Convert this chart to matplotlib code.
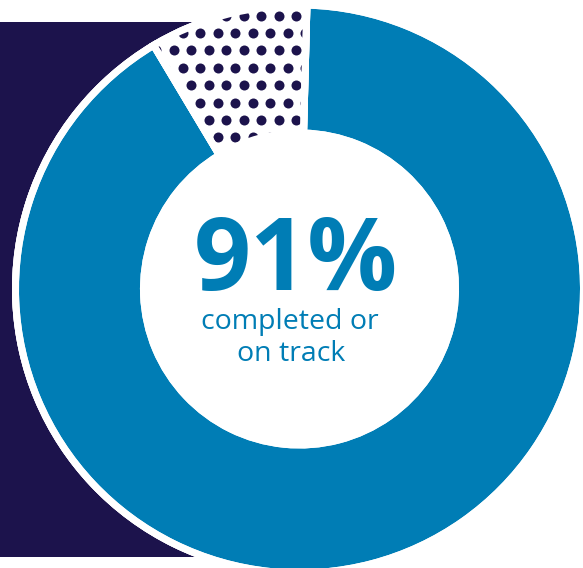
import numpy as np
import matplotlib.pyplot as plt
from matplotlib.patches import Rectangle, Circle, Wedge

# Data
categories = ['Completed or on track', 'Not on track']
values = [91, 9]
headline = '91%'
caption = ['completed or', 'on track']

BLUE = '#007DB5'
NAVY = '#1C134C'

W, H = 583, 568
fig = plt.figure(figsize=(W / 100, H / 100), dpi=100)
ax = fig.add_axes([0, 0, 1, 1])

cx, cy = 299.5, 279
R_out, R_in = 284, 156
edge_px = 7
edge_pt = edge_px * 72 / 100

# dark navy block behind the donut
ax.add_patch(Rectangle((0, 11), 250, 535, facecolor=NAVY, edgecolor='none', zorder=0))
# white halo around the ring
ax.add_patch(Circle((cx, cy), 287.5, facecolor='white', edgecolor='none', zorder=1))

wedges, _ = ax.pie(values, colors=[BLUE, 'white'], startangle=88.5, counterclock=False,
                   center=(cx, cy), radius=R_out,
                   wedgeprops=dict(width=R_out - R_in, edgecolor='white', linewidth=edge_pt))
for w in wedges:
    w.set_zorder(2)

# polka-dot fill for the small slice
gx, gy = [], []
for k in range(-3, 10):
    yimg = 33 + 17.4 * k
    off = 8.75 if k % 2 else 0
    xs = np.arange(130, 320, 17.5) + off + (200 - 130) % 17.5
    gx.extend(xs)
    gy.extend([H - yimg] * len(xs))
dots = ax.scatter(gx, gy, s=(10 * 0.72) ** 2, color=NAVY, linewidths=0, zorder=3)
dots.set_clip_path(wedges[1])

# redraw white outlines on top of dots
for w in wedges:
    ax.add_patch(Wedge(w.center, w.r, w.theta1, w.theta2, width=w.width, fill=False,
                       edgecolor='white', linewidth=edge_pt, zorder=4))

ax.text(296, 278, headline, ha='center', va='baseline', fontsize=72,
        fontweight='bold', family='Open Sans', color=BLUE, zorder=5)
ax.text(290, 239, caption[0], ha='center', va='baseline', fontsize=20.5,
        family='Open Sans', color=BLUE, zorder=5)
ax.text(291, 207, caption[1], ha='center', va='baseline', fontsize=20.5,
        family='Open Sans', color=BLUE, zorder=5)

ax.set_aspect('auto')
ax.set_xlim(0, W)
ax.set_ylim(0, H)
ax.axis('off')

plt.savefig('out.png', dpi=100, facecolor='white')
